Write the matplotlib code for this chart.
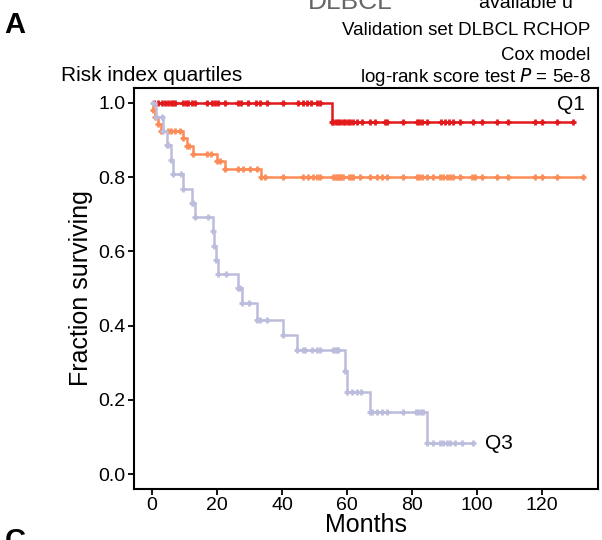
import numpy as np
import matplotlib
matplotlib.use("Agg")
import matplotlib.pyplot as plt

plt.rcParams["font.family"] = ["Liberation Sans", "DejaVu Sans"]

# Kaplan-Meier curves per risk-index quartile: event times (months),
# survival after each event, censoring times and last follow-up.
q1_event_months = [55.3]
q1_event_surv = [0.947]
q1_censor_months = [0.8, 2, 3, 4, 5, 5.8, 6.5, 7, 9.6, 10.5, 11, 12.2, 13.2, 17, 18.5,
                    19.5, 20.3, 22.5, 26.5, 27.3, 29.5, 32, 33.2, 35.3, 40.4, 45, 46.6,
                    47.6, 49, 50.7, 51.7, 55.8, 56.5, 57.2, 58, 58.8, 59.5, 60.2, 61, 62,
                    63, 64.5, 67, 68.6, 71.7, 72.3, 77.3, 81.4, 82.2, 83, 84.5, 89, 90,
                    91.3, 92.7, 94.8, 98.9, 101.4, 106, 109.6, 117.8, 119.9, 124.5, 129.6]

q2_event_months = [0.4, 1.0, 1.8, 2.8, 9.6, 10.7, 12.7, 19.9, 22.5, 33.7]
q2_event_surv = [0.981, 0.962, 0.944, 0.925, 0.905, 0.884, 0.863, 0.843, 0.822, 0.800]
q2_censor_months = [5, 6, 7, 8.5, 11.5, 16.8, 18.3, 21, 26.6, 28.1, 30.2, 32.2, 34.8,
                    40.4, 46.6, 48.1, 49.6, 50.7, 51.7, 55.8, 56.3, 56.8, 57.3, 57.8, 58.3,
                    58.9, 60.5, 61.3, 62, 64, 67, 69.1, 70.7, 72.2, 77.3, 81.4, 82.2, 83,
                    84.5, 86.5, 88.6, 89.6, 90.7, 91.7, 92.7, 94.8, 98.4, 99.4, 101.4, 106,
                    109.6, 117.8, 119.9, 124.5, 132.7]

q3_event_months = [1.3, 3.5, 4.5, 6.0, 6.5, 9.6, 12.2, 13.2, 18.7, 19.2, 19.6, 20.4,
                   26.6, 27.6, 32.2, 40.4, 44.5, 59.4, 60.0, 67.0, 84.5]
q3_event_surv = [0.962, 0.923, 0.885, 0.846, 0.808, 0.769, 0.731, 0.692, 0.654, 0.615,
                 0.577, 0.538, 0.500, 0.462, 0.415, 0.374, 0.333, 0.278, 0.222, 0.167,
                 0.083]
q3_censor_months = [0.4, 3.0, 5.0, 9.0, 12.6, 17.3, 22.8, 27.0, 29.9, 33.2, 35.3, 46.6,
                    47.0, 49.1, 50.7, 51.7, 55.8, 56.3, 56.8, 57.3, 61.4, 63.0, 64.2, 67.6,
                    69.1, 70.7, 72.4, 77.3, 81.2, 81.9, 82.7, 83.5, 86.6, 88.6, 89.6, 90.7,
                    91.7, 93.2, 95.3, 98.9]

group_names = ["Q1", "Q2", "Q3"]
group_colors = ["#e31a1c", "#fc8d59", "#bcbddc"]

x_ticks = [0, 20, 40, 60, 80, 100, 120]
y_ticks = [0.0, 0.2, 0.4, 0.6, 0.8, 1.0]

fig = plt.figure(figsize=(6.02, 5.40), dpi=100)
ax = fig.add_axes([134 / 602, 1 - 489 / 540, (598 - 134) / 602, (489 - 87.5) / 540])


def draw_km(ax, ev_t, ev_s, cens_t, color):
    ev_t = np.asarray(ev_t, float)
    ev_s = np.asarray(ev_s, float)
    cens_t = np.asarray(cens_t, float)
    t_end = max(ev_t.max(), cens_t.max())
    t = np.r_[0.0, ev_t, t_end]
    s = np.r_[1.0, ev_s, ev_s[-1]]
    ax.step(t, s, where="post", color=color, lw=1.8, solid_joinstyle="miter")
    marks = np.r_[ev_t, cens_t]
    levels = np.r_[1.0, ev_s][np.searchsorted(ev_t, marks, side="right")]
    ax.plot(marks, levels, ls="none", marker="+", ms=5, mew=2.0, color=color)


draw_km(ax, q1_event_months, q1_event_surv, q1_censor_months, group_colors[0])
draw_km(ax, q2_event_months, q2_event_surv, q2_censor_months, group_colors[1])
draw_km(ax, q3_event_months, q3_event_surv, q3_censor_months, group_colors[2])

ax.set_xlim(-5.5, 137.2)
ax.set_ylim(-0.040, 1.041)
ax.set_xticks(x_ticks)
ax.set_yticks(y_ticks)
ax.set_yticklabels([f"{v:.1f}" for v in y_ticks])
ax.tick_params(labelsize=14, length=4, width=1.3, pad=2, direction="out")
for sp in ax.spines.values():
    sp.set_linewidth(1.5)

ax.set_xlabel("Months", fontsize=18, labelpad=-1)
ax.set_ylabel("Fraction surviving", fontsize=18, labelpad=4)

ax.text(124.6, 0.995, group_names[0], fontsize=15, va="center", ha="left")
ax.text(102.5, 0.083, group_names[2], fontsize=15, va="center", ha="left")


def px(x, y):
    return x / 602, 1 - y / 540


fig.text(*px(4, 25), "A", fontsize=21, fontweight="bold", va="center", ha="left")
fig.text(*px(5, 527), "C", fontsize=21, fontweight="bold", va="top", ha="left")
fig.text(*px(308, 9), "DLBCL", fontsize=19, color="#666666", va="baseline", ha="left")
fig.text(*px(479, 8.5), "available u", fontsize=14, va="baseline", ha="left")
fig.text(*px(590, 35), "Validation set DLBCL RCHOP", fontsize=13.5, va="baseline", ha="right")
fig.text(*px(590, 60), "Cox model", fontsize=13.5, va="baseline", ha="right")
fig.text(*px(591, 82), "log-rank score test $\\it{P}$ = 5e-8", fontsize=13.5,
         va="baseline", ha="right")
fig.text(*px(61, 81), "Risk index quartiles", fontsize=15, va="baseline", ha="left")

fig.savefig("out.png", dpi=100)
